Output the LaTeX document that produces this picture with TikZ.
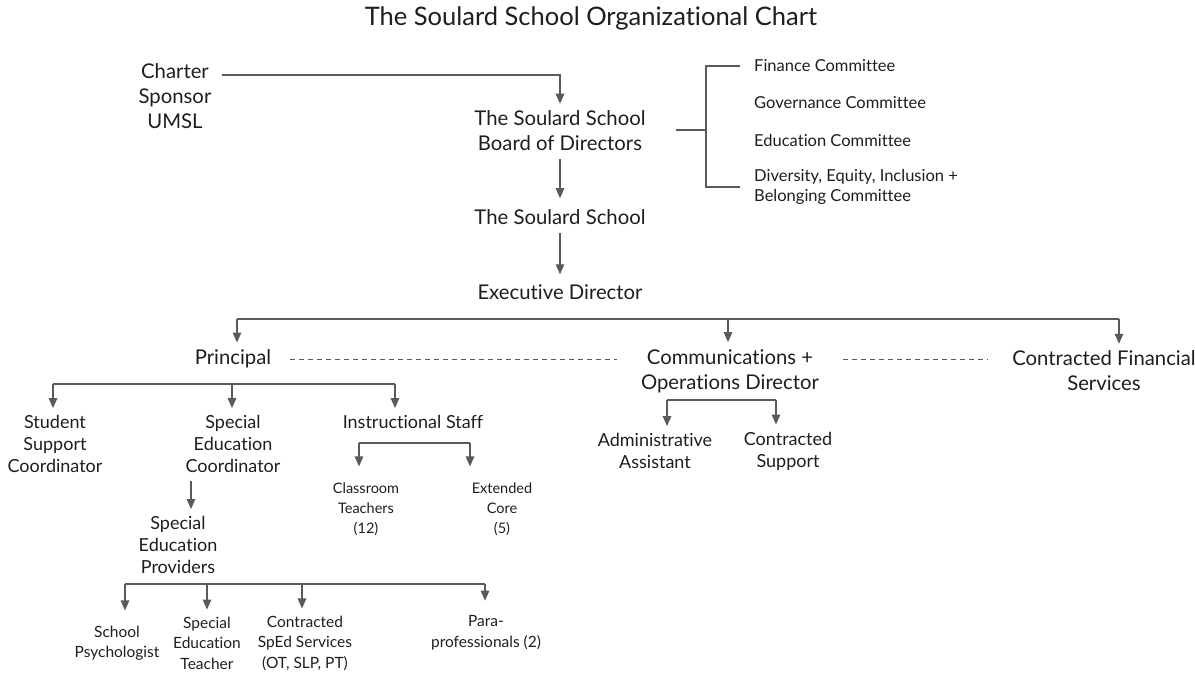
\documentclass[tikz,border=0pt]{standalone}
\usepackage{fontspec}
\setmainfont{Lato}[RawFeature={-liga,-clig,-dlig,-calt}]
\usetikzlibrary{arrows.meta}
\definecolor{linegray}{HTML}{5A5A5A}
\definecolor{txt}{HTML}{1E1E1E}
\begin{document}
\begin{tikzpicture}[x=1pt,y=-1pt,
  every node/.style={text=txt, align=center, inner sep=2pt},
  titletext/.style={font=\fontsize{25.5}{30}\selectfont},
  big/.style={font=\fontsize{20.3}{25}\selectfont},
  mid/.style={font=\fontsize{18}{22}\selectfont},
  small/.style={font=\fontsize{14.5}{20}\selectfont},
  leaf/.style={font=\fontsize{15.5}{20.5}\selectfont},
  comm/.style={font=\fontsize{16.5}{20}\selectfont, align=left, anchor=west},
  link/.style={draw=linegray, line width=1.3pt},
  arr/.style={link, -{Triangle[width=8.5pt,length=10pt]}, shorten >=5pt},
  dashlink/.style={draw=linegray, line width=1pt, dash pattern=on 5pt off 4pt}
]
\useasboundingbox (0,0) rectangle (1195,673);

% title
\node[titletext] (title) at (591,18) {The Soulard School Organizational Chart};

% governance chain
\node[big] (sponsor) at (175,96) {Charter\\Sponsor\\UMSL};
\node[big] (board) at (560,131) {The Soulard School\\Board of Directors};
\node[big] (school) at (560,217) {The Soulard School};
\node[big] (ed) at (560,292) {Executive Director};

\coordinate (spfree) at (222,75);
\draw[arr] (spfree) -| (board.north);
\draw[arr, shorten <=6pt, shorten >=9pt] (board.south) -- (school.north);
\draw[arr, shorten <=6pt, shorten >=8pt] (school.south) -- (ed.north);

% board committees
\node[comm] (fin) at (752,66) {Finance Committee};
\node[comm] (gov) at (752,103) {Governance Committee};
\node[comm] (edu) at (752,140) {Education Committee};
\node[comm] (dei) at (752,187) {Diversity, Equity, Inclusion +\\Belonging Committee};
\coordinate (brk) at (706,130);
\draw[link, shorten <=28pt] (board.east |- brk) -- (brk);
\draw[link] ([xshift=-12pt]fin.west) -| (brk) |- ([xshift=-12pt]dei.west);

% senior staff
\node[big] (prin) at (233,359) {Principal};
\node[big] (comms) at (730,371) {Communications +\\Operations Director};
\node[big] (cfs) at (1104,371) {Contracted Financial\\Services};

\coordinate (edA) at (237,319);
\coordinate (edB) at (728,319);
\coordinate (edC) at (1119,319);
\draw[link] (edA) -- (edC);
\draw[arr] (edA) -- (edA |- prin.north);
\draw[arr] (edB) -- (edB |- comms.north);
\draw[arr] (edC) -- (edC |- cfs.north);

\draw[dashlink, shorten <=17pt, shorten >=22pt] (prin.east) -- (prin.east -| comms.west);
\draw[dashlink, shorten <=22pt, shorten >=22pt] (comms.east |- prin.east) -- (cfs.west |- prin.east);

% principal's reports
\node[mid] (ssc) at (55,444) {Student\\Support\\Coordinator};
\node[mid] (sec) at (233,444) {Special\\Education\\Coordinator};
\node[mid] (ist) at (413,422) {Instructional Staff};

\coordinate (prA) at (53,384);
\coordinate (prB) at (232,384);
\coordinate (prC) at (395,384);
\draw[link] (prA) -- (prC);
\draw[arr] (prA) -- (prA |- ssc.north);
\draw[arr] (prB) -- (prB |- sec.north);
\draw[arr] (prC) -- (prC |- ist.north);

% instructional staff
\node[small] (ct) at (366,509) {Classroom\\Teachers\\(12)};
\node[small] (ec) at (502,509) {Extended\\Core\\(5)};
\coordinate (isA) at (359,443);
\coordinate (isB) at (470,443);
\draw[link] (isA) -- (isB);
\draw[arr, shorten >=14pt] (isA) -- (isA |- ct.north);
\draw[arr, shorten >=14pt] (isB) -- (isB |- ec.north);

% special education
\node[mid] (sep) at (178,545) {Special\\Education\\Providers};
\draw[arr, shorten <=6pt] ([xshift=-42pt]sec.south) -- ([xshift=-42pt]sec.south |- sep.north);

\node[leaf] (psy) at (117,643) {School\\Psychologist};
\node[leaf] (spt) at (207,643) {Special\\Education\\Teacher};
\node[leaf] (csp) at (305,643) {Contracted\\SpEd Services\\(OT, SLP, PT)};
\node[leaf] (para) at (486,633) {Para-\\professionals (2)};

\coordinate (spA) at (125,584);
\coordinate (spB) at (207,584);
\coordinate (spC) at (302,584);
\coordinate (spD) at (485,584);
\draw[link] (spA) -- (spD);
\draw[arr, shorten >=13pt] (spA) -- (spA |- psy.north);
\draw[arr] (spB) -- (spB |- spt.north);
\draw[arr] (spC) -- (spC |- csp.north);
\draw[arr, shorten >=13pt] (spD) -- (spD |- para.north);

% operations
\node[mid] (adm) at (655,451) {Administrative\\Assistant};
\node[mid] (cs) at (788,451) {Contracted\\Support};
\coordinate (opA) at (667,400);
\coordinate (opB) at (776,400);
\draw[link] (opA) -- (opB);
\draw[arr] (opA) -- (opA |- adm.north);
\draw[arr] (opB) -- (opB |- cs.north);
\end{tikzpicture}
\end{document}
